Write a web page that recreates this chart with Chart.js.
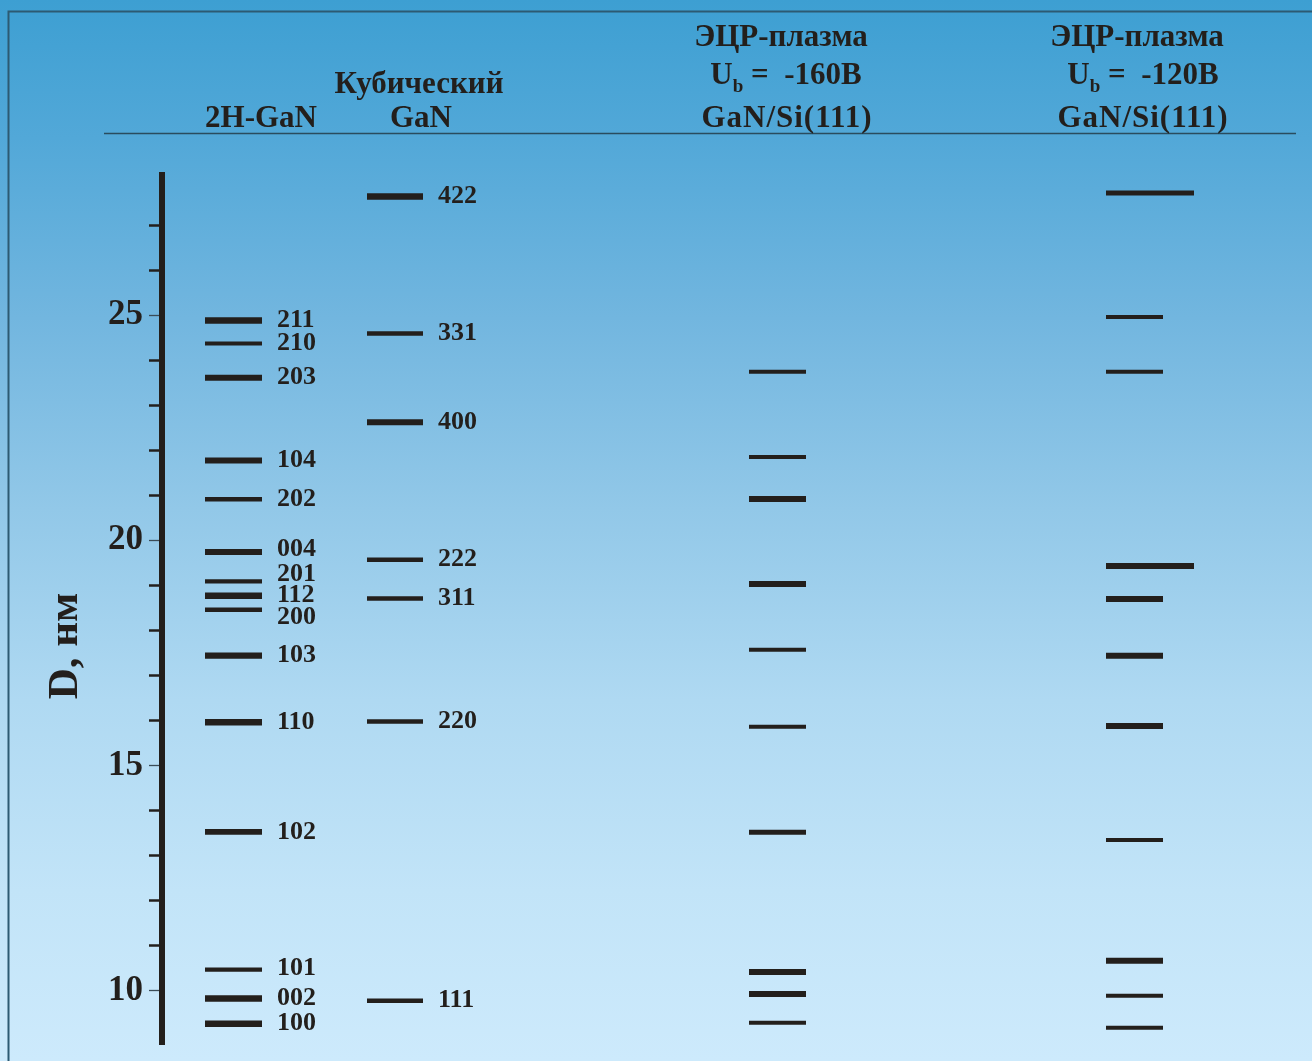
<!DOCTYPE html>
<html>
<head>
<meta charset="utf-8">
<script src="https://cdn.jsdelivr.net/npm/chart.js@4.4.1/dist/chart.umd.min.js"></script>
<style>
  html, body { margin: 0; padding: 0; overflow: hidden; background: #8fc6e8; }
  canvas { display: block; }
</style>
</head>
<body>
<canvas id="chart" width="1312" height="1061"></canvas>
<script>
// Interplanar spacings D (нм): reference GaN phases and ECR-plasma GaN/Si(111) films

// 2H-GaN (hexagonal) reflections
const hexPlanes = ['211', '210', '203', '104', '202', '004', '201', '112', '200', '103', '110', '102', '101', '002', '100'];
const hexD      = [24.88, 24.37, 23.61, 21.77, 20.91, 19.74, 19.09, 18.77, 18.46, 17.44, 15.96, 13.53, 10.47, 9.83, 9.27];

// cubic GaN reflections
const cubicPlanes = ['422', '331', '400', '222', '311', '220', '111'];
const cubicD      = [27.63, 24.59, 22.62, 19.57, 18.71, 15.98, 9.78];

// ECR plasma, Ub = -160 V
const ecr160D = [23.74, 21.85, 20.92, 19.03, 17.57, 15.86, 13.52, 10.42, 9.93, 9.29];

// ECR plasma, Ub = -120 V
const ecr120D = [27.71, 24.96, 23.74, 19.43, 18.70, 17.44, 15.88, 13.35, 10.67, 9.89, 9.18];

// axis tick marks and the labelled ones
const axisTicks  = [10, 11, 12, 13, 14, 15, 16, 17, 18, 19, 20, 21, 22, 23, 24, 25, 26, 27];
const axisLabels = [10, 15, 20, 25];

// ---- styling ----
const ink = '#231f1c';
const serif = "'Liberation Serif', 'Times New Roman', serif";

// line weight (px) of each mark, in the same order as the values
const hexWeight    = [6.5, 4, 6, 6, 4.5, 6, 4.3, 6.3, 4.3, 6.3, 6.5, 5.7, 4.3, 6.5, 6.3];
const cubicWeight  = [6.5, 4.5, 6, 4.5, 4.5, 4.5, 4.5];
const ecr160Weight = [4, 4, 6, 6, 4, 4, 5, 6, 6, 4];
const ecr120Weight = [5, 4, 4, 6, 6, 6, 6, 4, 6, 4, 4];
const ecr120Long   = [true, false, false, true, false, false, false, false, false, false, false];

// small vertical nudges for crowded hkl labels (px)
const hexLabelNudge = { '004': -3, '201': -7, '200': 8, '101': -1 };

// horizontal placement of each column on the hidden x scale
const columns = {
  hex:    { from: 205,  to: 262 },
  cubic:  { from: 367,  to: 423 },
  ecr160: { from: 749,  to: 806 },
  ecr120: { from: 1106, to: 1163, longTo: 1194 }
};

function markSets(values, weights, col, longFlags) {
  return values.map((d, i) => {
    const end = longFlags && longFlags[i] ? col.longTo : col.to;
    return {
      data: [{ x: col.from, y: d }, { x: end, y: d }],
      showLine: true,
      borderColor: ink,
      borderWidth: weights[i],
      borderCapStyle: 'butt',
      pointRadius: 0,
      pointHoverRadius: 0,
      fill: false
    };
  });
}

const datasets = [
  ...markSets(hexD, hexWeight, columns.hex),
  ...markSets(cubicD, cubicWeight, columns.cubic),
  ...markSets(ecr160D, ecr160Weight, columns.ecr160),
  ...markSets(ecr120D, ecr120Weight, columns.ecr120, ecr120Long)
];

// sky gradient behind everything
const backdrop = {
  id: 'backdrop',
  beforeDraw(chart) {
    const { ctx, width, height } = chart;
    const g = ctx.createLinearGradient(0, 0, 0, height);
    g.addColorStop(0.00, '#3d9fd2');
    g.addColorStop(0.13, '#52a8d8');
    g.addColorStop(0.30, '#72b6df');
    g.addColorStop(0.48, '#92c8e8');
    g.addColorStop(0.66, '#afd9f2');
    g.addColorStop(0.84, '#c2e4f8');
    g.addColorStop(1.00, '#cdeafc');
    ctx.save();
    ctx.fillStyle = g;
    ctx.fillRect(0, 0, width, height);
    ctx.restore();
  }
};

// one heading line "U_b = ..." with a lowered subscript, centred on cx
function centeredSubscriptLine(ctx, cx, baseline, main, sub, rest, size) {
  const big = `bold ${size}px ${serif}`;
  const small = `bold ${Math.round(size * 0.62)}px ${serif}`;
  ctx.save();
  ctx.font = big;
  const wMain = ctx.measureText(main).width;
  const wRest = ctx.measureText(rest).width;
  ctx.font = small;
  const wSub = ctx.measureText(sub).width;
  let x = cx - (wMain + wSub + wRest) / 2;
  ctx.textAlign = 'left';
  ctx.textBaseline = 'alphabetic';
  ctx.font = big;
  ctx.fillText(main, x, baseline);
  x += wMain;
  ctx.font = small;
  ctx.fillText(sub, x, baseline + 8);
  x += wSub;
  ctx.font = big;
  ctx.fillText(rest, x, baseline);
  ctx.restore();
}

// frame, column headings, axis title and hkl labels
const annotations = {
  id: 'annotations',
  afterDraw(chart) {
    const { ctx } = chart;
    const y = chart.scales.y;
    ctx.save();

    // frame
    ctx.strokeStyle = '#2d5a72';
    ctx.lineWidth = 2;
    ctx.beginPath();
    ctx.moveTo(8.5, 1061);
    ctx.lineTo(8.5, 11.5);
    ctx.lineTo(1312, 11.5);
    ctx.stroke();

    // heading rule
    ctx.strokeStyle = '#2a4c5e';
    ctx.lineWidth = 1.5;
    ctx.beginPath();
    ctx.moveTo(104, 133.5);
    ctx.lineTo(1296, 133.5);
    ctx.stroke();

    // column headings
    ctx.fillStyle = ink;
    ctx.textAlign = 'center';
    ctx.textBaseline = 'alphabetic';
    const hs = 31;
    ctx.font = `bold ${hs}px ${serif}`;
    ctx.fillText('2H-GaN', 261, 127);
    ctx.fillText('Кубический', 419, 93);
    ctx.fillText('GaN', 421, 127);

    ctx.fillText('ЭЦР-плазма', 781, 46);
    ctx.fillText('ЭЦР-плазма', 1137, 46);
    centeredSubscriptLine(ctx, 786, 83.5, 'U', 'b', ' =  -160B', hs);
    centeredSubscriptLine(ctx, 1143, 83.5, 'U', 'b', ' =  -120B', hs);

    ctx.textAlign = 'center';
    ctx.font = `bold ${hs}px ${serif}`;
    ctx.letterSpacing = '1px';
    ctx.fillText('GaN/Si(111)', 787, 127);
    ctx.fillText('GaN/Si(111)', 1143, 127);
    ctx.letterSpacing = '0px';

    // axis title
    ctx.save();
    ctx.translate(77, 646);
    ctx.rotate(-Math.PI / 2);
    ctx.font = `bold 43px ${serif}`;
    ctx.textAlign = 'center';
    ctx.textBaseline = 'alphabetic';
    ctx.fillText('D, нм', 0, 0);
    ctx.restore();

    // hkl labels
    ctx.font = `bold 26px ${serif}`;
    ctx.textAlign = 'left';
    ctx.textBaseline = 'middle';
    hexPlanes.forEach((p, i) => {
      const py = y.getPixelForValue(hexD[i]) + (hexLabelNudge[p] || 0);
      ctx.fillText(p, 277, py);
    });
    cubicPlanes.forEach((p, i) => {
      ctx.fillText(p, 438, y.getPixelForValue(cubicD[i]));
    });

    ctx.restore();
  }
};

new Chart(document.getElementById('chart'), {
  type: 'scatter',
  data: { datasets },
  plugins: [backdrop, annotations],
  options: {
    responsive: false,
    animation: false,
    devicePixelRatio: 1,
    layout: { padding: { top: 175, bottom: 17, left: 0, right: 0 } },
    plugins: { legend: { display: false }, tooltip: { enabled: false } },
    events: [],
    scales: {
      x: { type: 'linear', display: false, min: 162, max: 1312 },
      y: {
        type: 'linear',
        position: 'left',
        min: 8.82,
        max: 28.11,
        afterBuildTicks(scale) {
          scale.ticks = axisTicks.map(v => ({ value: v }));
        },
        afterFit(scale) {
          scale.width = 162;
          scale.paddingTop = 0;
          scale.paddingBottom = 0;
        },
        border: { display: true, width: 6, color: ink },
        grid: {
          drawOnChartArea: false,
          drawTicks: true,
          tickLength: 13,
          tickColor: c => (c.tick && c.tick.value % 5 === 0 ? '#3b4c57' : ink),
          tickWidth: c => (c.tick && c.tick.value % 5 === 0 ? 1.3 : 2.5)
        },
        ticks: {
          autoSkip: false,
          padding: 6,
          color: ink,
          font: { family: serif, weight: 'bold', size: 35 },
          callback: v => (axisLabels.includes(v) ? String(v) : '')
        }
      }
    }
  }
});
</script>
</body>
</html>
